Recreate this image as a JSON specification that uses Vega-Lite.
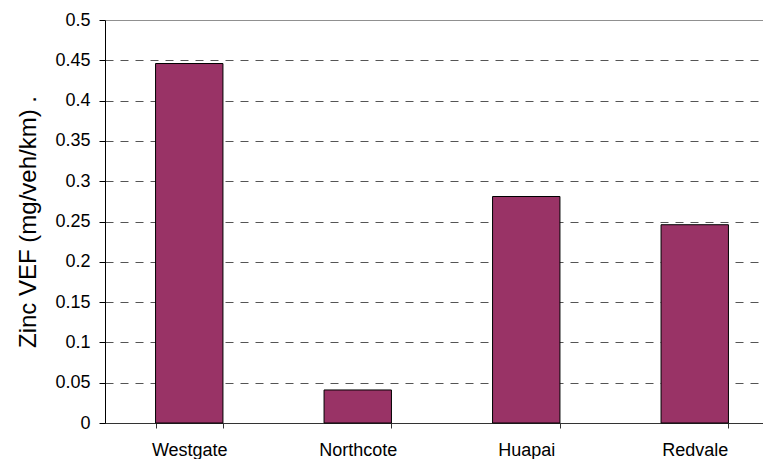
{
  "$schema": "https://vega.github.io/schema/vega-lite/v6.json",
  "width": 658,
  "height": 403,
  "autosize": {"type": "none"},
  "padding": {"left": 105, "top": 20, "right": 0, "bottom": 36},
  "background": "white",
  "config": {
    "view": {"stroke": null},
    "font": "Liberation Sans"
  },
  "data": {
    "values": [
      {"site": "Westgate", "zinc": 0.446},
      {"site": "Northcote", "zinc": 0.041},
      {"site": "Huapai", "zinc": 0.281},
      {"site": "Redvale", "zinc": 0.246}
    ]
  },
  "mark": {"type": "bar", "fill": "#993366", "stroke": "#000000", "strokeWidth": 1},
  "encoding": {
    "x": {
      "field": "site",
      "type": "nominal",
      "sort": null,
      "scale": {"range": [0, 674], "paddingInner": 0.6, "paddingOuter": 0.3},
      "axis": {
        "title": null,
        "labelAngle": 0,
        "labelFont": "Liberation Sans",
        "labelFontSize": 18,
        "labelColor": "#000000",
        "labelPadding": 13,
        "tickBand": "extent",
        "tickSize": 5,
        "tickColor": "#333333",
        "domainColor": "#333333",
        "grid": false
      }
    },
    "y": {
      "field": "zinc",
      "type": "quantitative",
      "scale": {"domain": [0, 0.5], "nice": false},
      "axis": {
        "title": "Zinc VEF (mg/veh/km) .",
        "titleFont": "Liberation Sans",
        "titleFontSize": 24,
        "titleFontWeight": "normal",
        "titleColor": "#000000",
        "titlePadding": 14,
        "values": [0, 0.05, 0.1, 0.15, 0.2, 0.25, 0.3, 0.35, 0.4, 0.45, 0.5],
        "format": ".2~f",
        "labelFont": "Liberation Sans",
        "labelFontSize": 18,
        "labelColor": "#000000",
        "labelPadding": 9,
        "tickSize": 6,
        "tickColor": "#000000",
        "domainColor": "#000000",
        "grid": true,
        "gridColor": {"condition": {"test": "datum.value >= 0.5", "value": "#909090"}, "value": "#555555"},
        "gridDash": {"condition": {"test": "datum.value >= 0.5", "value": []}, "value": [8, 7]},
        "gridWidth": 1
      }
    }
  }
}
